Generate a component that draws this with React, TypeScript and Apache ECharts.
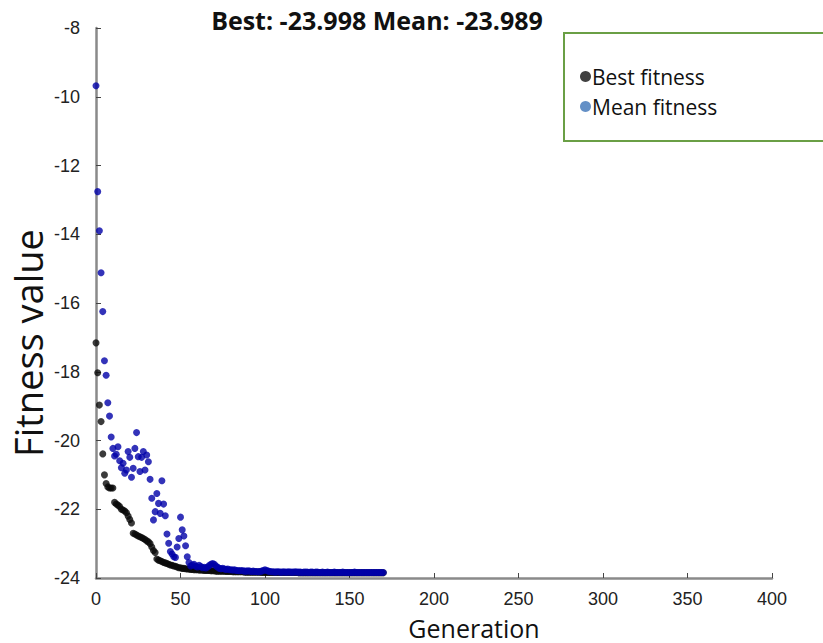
import React, { useEffect, useRef } from "react";
import * as echarts from "echarts";

const generations: number[] = [];
const bestFitness: number[] = [
  -17.16, -18.03, -18.97, -19.45, -20.39, -21.0, -21.25, -21.35, -21.38, -21.38,
  -21.38, -21.8, -21.85, -21.88, -21.92, -22.0, -22.02, -22.05, -22.1, -22.2,
  -22.3, -22.4, -22.7, -22.72, -22.75, -22.78, -22.8, -22.82, -22.85, -22.88,
  -22.92, -22.95, -23.0, -23.1, -23.2, -23.26, -23.45, -23.48, -23.5, -23.52,
  -23.55, -23.56, -23.58, -23.6, -23.62, -23.63, -23.65, -23.66, -23.68, -23.7,
  -23.7, -23.72, -23.72, -23.73, -23.74, -23.74, -23.75, -23.75, -23.76, -23.76,
  -23.76, -23.77, -23.77, -23.77, -23.78, -23.78, -23.78, -23.78, -23.79, -23.79,
  -23.79, -23.8, -23.8, -23.8, -23.8, -23.8, -23.8, -23.81, -23.81, -23.81,
  -23.81, -23.82, -23.82, -23.82, -23.82, -23.82, -23.82, -23.82, -23.83, -23.83,
  -23.83, -23.83, -23.83, -23.83, -23.83, -23.83, -23.83, -23.83, -23.84, -23.84,
  -23.84, -23.84, -23.84, -23.84, -23.84, -23.84, -23.84, -23.84, -23.84, -23.84,
  -23.84, -23.84, -23.84, -23.84, -23.84, -23.84, -23.84, -23.84, -23.84, -23.84,
  -23.85, -23.85, -23.85, -23.85, -23.85, -23.85, -23.85, -23.85, -23.85, -23.85,
  -23.85, -23.85, -23.85, -23.85, -23.85, -23.85, -23.85, -23.85, -23.85, -23.85,
  -23.85, -23.85, -23.85, -23.85, -23.85, -23.85, -23.85, -23.85, -23.85, -23.85,
  -23.85, -23.85, -23.85, -23.85, -23.85, -23.85, -23.85, -23.85, -23.85, -23.85,
  -23.85, -23.85, -23.85, -23.85, -23.85, -23.85, -23.85, -23.85, -23.85, -23.85,
  -23.85,
];
const meanFitness: number[] = [
  -9.68, -12.76, -13.9, -15.12, -16.25, -17.68, -18.1, -18.9, -19.29, -19.9,
  -20.23, -20.45, -20.4, -20.18, -20.59, -20.79, -20.66, -20.95, -20.86, -20.32,
  -20.49, -21.07, -20.81, -20.23, -19.77, -20.47, -20.9, -20.49, -20.32, -20.86,
  -20.42, -20.62, -21.13, -21.68, -22.31, -22.07, -21.54, -21.83, -22.12, -21.17,
  -21.85, -22.19, -22.72, -22.99, -23.23, -23.3, -23.38, -23.4, -23.1, -22.85,
  -22.23, -22.6, -22.78, -23.06, -23.38, -23.55, -23.65, -23.62, -23.6, -23.66,
  -23.68, -23.63, -23.67, -23.7, -23.69, -23.71, -23.68, -23.64, -23.6, -23.58,
  -23.6, -23.65, -23.69, -23.72, -23.73, -23.72, -23.74, -23.75, -23.74, -23.76,
  -23.76, -23.77, -23.76, -23.78, -23.78, -23.79, -23.78, -23.79, -23.8, -23.8,
  -23.79, -23.8, -23.81, -23.8, -23.81, -23.81, -23.82, -23.81, -23.8, -23.78,
  -23.76, -23.78, -23.8, -23.81, -23.82, -23.82, -23.83, -23.82, -23.82, -23.83,
  -23.83, -23.82, -23.83, -23.83, -23.82, -23.83, -23.83, -23.83, -23.82, -23.83,
  -23.83, -23.83, -23.84, -23.83, -23.83, -23.83, -23.84, -23.83, -23.83, -23.84,
  -23.83, -23.83, -23.84, -23.84, -23.83, -23.84, -23.84, -23.83, -23.84, -23.84,
  -23.84, -23.83, -23.84, -23.84, -23.84, -23.84, -23.83, -23.84, -23.84, -23.84,
  -23.84, -23.84, -23.84, -23.83, -23.84, -23.84, -23.84, -23.84, -23.84, -23.84,
  -23.84, -23.84, -23.84, -23.84, -23.84, -23.84, -23.84, -23.84, -23.84, -23.84,
  -23.84,
];
for (let i = 0; i < bestFitness.length; i++) generations.push(i);

const titleText = "Best: -23.998 Mean: -23.989";
const seriesNames = ["Best fitness", "Mean fitness"];
const xTicks = [0, 50, 100, 150, 200, 250, 300, 350, 400];
const yTicks = [-24, -22, -20, -18, -16, -14, -12, -10, -8];

export default function App() {
  const ref = useRef<HTMLDivElement>(null);
  useEffect(() => {
    if (!ref.current) return;
    const chart = echarts.init(ref.current, undefined, { renderer: "svg" });
    const axisFont = "'Liberation Sans', Arial, sans-serif";
    const labelFont = "'Open Sans', 'Noto Sans', sans-serif";
    chart.setOption({
      animation: false,
      backgroundColor: "#ffffff",
      grid: { left: 96, top: 28, right: 51, bottom: 65, containLabel: false },
      xAxis: {
        type: "value",
        min: xTicks[0],
        max: xTicks[xTicks.length - 1],
        interval: 50,
        axisLine: { show: true, lineStyle: { color: "#8a8a8a", width: 2.5 } },
        axisTick: { show: true, inside: true, length: 5, lineStyle: { color: "#444", width: 1 } },
        axisLabel: { color: "#222", fontSize: 18, fontFamily: axisFont, margin: 12 },
        splitLine: { show: false },
      },
      yAxis: {
        type: "value",
        min: yTicks[0],
        max: yTicks[yTicks.length - 1],
        interval: 2,
        axisLine: { show: true, lineStyle: { color: "#8a8a8a", width: 2.5 } },
        axisTick: { show: true, inside: true, length: 5, lineStyle: { color: "#444", width: 1 } },
        axisLabel: { color: "#222", fontSize: 18, fontFamily: axisFont, margin: 16 },
        splitLine: { show: false },
      },
      legend: {
        orient: "vertical",
        left: 575,
        top: 61,
        itemWidth: 11,
        itemHeight: 11,
        itemGap: 9,
        icon: "circle",
        textStyle: { fontSize: 21, color: "#111", fontFamily: labelFont, padding: [0, 0, 0, -4] },
        data: [
          { name: seriesNames[0], itemStyle: { color: "#111111" } },
          { name: seriesNames[1], itemStyle: { color: "#3d74b8" } },
        ],
      },
      graphic: [
        {
          type: "rect",
          shape: { x: 564, y: 33, width: 270, height: 108 },
          style: { fill: "none", stroke: "#6a9f45", lineWidth: 2 },
          z: 10,
        },
        {
          type: "text",
          x: 377,
          y: 20,
          style: {
            text: titleText,
            fontSize: 25,
            fontWeight: "bold",
            fontFamily: labelFont,
            fill: "#111",
            textAlign: "center",
            textVerticalAlign: "middle",
          },
        },
        {
          type: "text",
          x: 28,
          y: 343,
          rotation: Math.PI / 2,
          style: {
            text: "Fitness value",
            fontSize: 38,
            fontFamily: labelFont,
            fill: "#111",
            textAlign: "center",
            textVerticalAlign: "middle",
          },
        },
        {
          type: "text",
          x: 474,
          y: 640,
          style: {
            text: "Generation",
            fontSize: 25,
            fontFamily: labelFont,
            fill: "#111",
            textAlign: "center",
            textVerticalAlign: "bottom",
          },
        },
      ],
      series: [
        {
          name: seriesNames[0],
          type: "scatter",
          symbol: "circle",
          symbolSize: 7,
          itemStyle: { color: "#0a0a0a" },
          data: generations.map((g, i) => [g, bestFitness[i]]),
        },
        {
          name: seriesNames[1],
          type: "scatter",
          symbol: "circle",
          symbolSize: 7,
          itemStyle: { color: "#0000a8" },
          data: generations.map((g, i) => [g, meanFitness[i]]),
        },
      ],
    });
    return () => chart.dispose();
  }, []);
  return (
    <div
      ref={ref}
      style={{ position: "fixed", left: 0, top: 0, width: 823, height: 643 }}
    />
  );
}
